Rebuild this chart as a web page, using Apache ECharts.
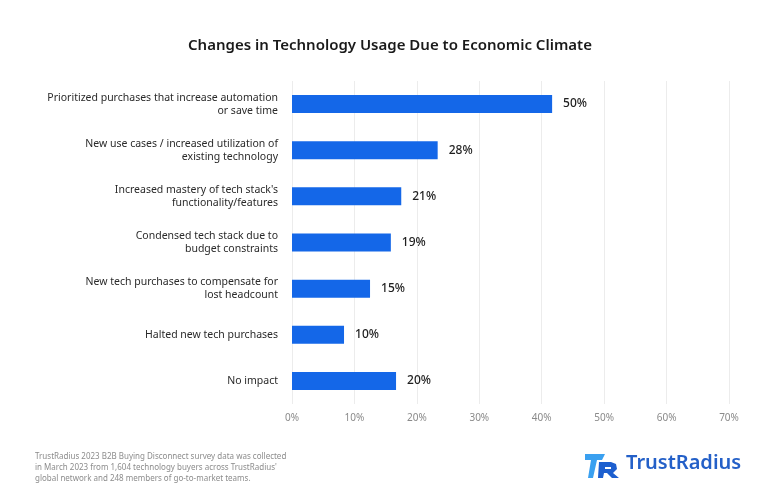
<!DOCTYPE html>
<html>
<head>
<meta charset="utf-8">
<script src="https://cdn.jsdelivr.net/npm/echarts@6/dist/echarts.min.js"></script>
<style>html,body{margin:0;padding:0;background:#fff;}#c{width:780px;height:501px;}</style>
</head>
<body>
<div id="c"></div>
<script>
const categories = [
  'Prioritized purchases that increase automation\nor save time',
  'New use cases / increased utilization of\nexisting technology',
  "Increased mastery of tech stack's\nfunctionality/features",
  'Condensed tech stack due to\nbudget constraints',
  'New tech purchases to compensate for\nlost headcount',
  'Halted new tech purchases',
  'No impact'
];
const values = [50, 28, 21, 19, 15, 10, 20];
const tickLabels = ['0%', '10%', '20%', '30%', '40%', '50%', '60%', '70%'];
const titleText = 'Changes in Technology Usage Due to Economic Climate';
const footnote = "TrustRadius 2023 B2B Buying Disconnect survey data was collected\nin March 2023 from 1,604 technology buyers across TrustRadius'\nglobal network and 248 members of go-to-market teams.";

// The reference's drawn axis spans 84 units per 7 labelled ticks (bars drawn at 5/6 scale)
const axisStep = 12;
const axisMax = axisStep * (tickLabels.length - 1);

const chart = echarts.init(document.getElementById('c'), null, {renderer: 'canvas'});
chart.setOption({
  backgroundColor: '#ffffff',
  animation: false,
  title: {
    text: titleText,
    left: 'center',
    top: 33,
    textStyle: {fontFamily: 'Noto Sans', fontSize: 15, fontWeight: 600, color: '#1a1a1a'}
  },
  grid: {left: 292, right: 51, top: 81, bottom: 97, containLabel: false},
  xAxis: {
    type: 'value',
    min: 0,
    max: axisMax,
    interval: axisStep,
    axisLine: {show: false},
    axisTick: {show: false},
    splitLine: {show: true, lineStyle: {color: '#ececec', width: 1}},
    axisLabel: {
      margin: 9,
      color: '#8a8a8a',
      fontFamily: 'Noto Sans',
      fontSize: 10,
      formatter: function (v) { return tickLabels[Math.round(v / axisStep)]; }
    }
  },
  yAxis: {
    type: 'category',
    inverse: true,
    data: categories,
    axisLine: {show: false},
    axisTick: {show: false},
    axisLabel: {
      margin: 14,
      color: '#2a2a2a',
      fontFamily: 'Noto Sans',
      fontSize: 10.5,
      lineHeight: 13,
      align: 'right'
    }
  },
  series: [{
    type: 'bar',
    data: values,
    barWidth: 18,
    itemStyle: {color: '#1467e8'},
    label: {
      show: true,
      position: 'right',
      distance: 11,
      color: '#1f1f1f',
      fontFamily: 'Noto Sans',
      fontSize: 12,
      fontWeight: 500,
      formatter: function (p) { return values[p.dataIndex] + '%'; }
    }
  }],
  graphic: [
    {
      type: 'text', left: 35, top: 451,
      style: {text: footnote, fill: '#8c8c8c', font: '8px "Noto Sans"', lineHeight: 11}
    },
    {
      type: 'group', left: 585, top: 454,
      children: [
        {type: 'polygon', shape: {points: [[0,0],[20,0],[17,6],[12,6],[8,24],[3,24],[6,6],[0,6]]}, style: {fill: '#3aa0f0'}},
        {type: 'polygon', shape: {points: [[14,8],[26,8],[31,10],[32,15],[28,19],[34,24],[27,24],[22,19],[19,19],[18,24],[13,24]]}, style: {fill: '#1d5fcf'}},
        {type: 'polygon', shape: {points: [[20,13],[26,13],[26,15],[20,15]]}, style: {fill: '#ffffff'}}
      ]
    },
    {
      type: 'text', left: 626, top: 453,
      style: {text: 'TrustRadius', fill: '#2460c8', font: '600 20px "Noto Sans"'}
    }
  ]
});
</script>
</body>
</html>
